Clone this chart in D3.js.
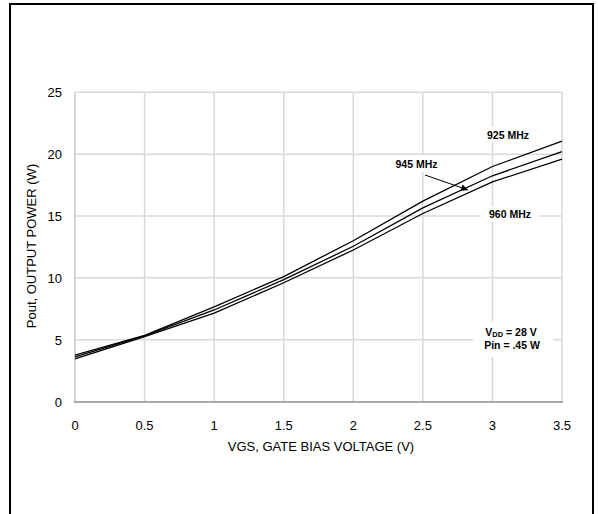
<!DOCTYPE html>
<html><head><meta charset="utf-8">
<script src="https://cdn.jsdelivr.net/npm/d3@7"></script>
<style>body{margin:0;background:#fff}svg{display:block}text{font-family:"Liberation Sans",Arial,sans-serif}</style>
</head><body>
<svg id="c" width="598" height="514"></svg>
<script>
const vgs = [0, 0.5, 1, 1.5, 2, 2.5, 3, 3.5];
const p925 = [3.75, 5.35, 7.65, 10.1, 13.0, 16.2, 19.0, 21.05];
const p945 = [3.6, 5.3, 7.4, 9.85, 12.55, 15.65, 18.25, 20.2];
const p960 = [3.45, 5.25, 7.15, 9.6, 12.25, 15.2, 17.75, 19.6];
const xTicks = [0, 0.5, 1, 1.5, 2, 2.5, 3, 3.5];
const yTicks = [0, 5, 10, 15, 20, 25];
const seriesNames = ["925 MHz", "945 MHz", "960 MHz"];

const svg = d3.select("#c");
const x = d3.scaleLinear().domain([0, 3.5]).range([75, 562]);
const y = d3.scaleLinear().domain([0, 25]).range([401.5, 92.3]);

// outer frame
svg.append("rect").attr("x",10).attr("y",4).attr("width",583).attr("height",530)
  .attr("fill","none").attr("stroke","#000").attr("stroke-width",2);

// gridlines
const g = svg.append("g");
g.selectAll(".vx").data(xTicks.slice(1)).enter().append("line")
  .attr("x1",d=>x(d)).attr("x2",d=>x(d)).attr("y1",y(25)).attr("y2",y(0))
  .attr("stroke","#d9d9d9").attr("stroke-width",1.5);
g.selectAll(".hy").data(yTicks.slice(1)).enter().append("line")
  .attr("x1",x(0)).attr("x2",x(3.5)).attr("y1",d=>y(d)).attr("y2",d=>y(d))
  .attr("stroke","#d9d9d9").attr("stroke-width",1.5);
// left axis
g.append("line").attr("x1",x(0)).attr("x2",x(0)).attr("y1",y(25)).attr("y2",y(0))
  .attr("stroke","#c8c8c8").attr("stroke-width",1.5);
// bottom axis
g.append("line").attr("x1",x(0)-1).attr("x2",x(3.5)+1).attr("y1",y(0)+0.5).attr("y2",y(0)+0.5)
  .attr("stroke","#8c8c8c").attr("stroke-width",1.5);

// tick labels
svg.selectAll(".xt").data(xTicks).enter().append("text")
  .attr("x",d=>x(d)).attr("y",430).attr("text-anchor","middle")
  .attr("font-size",13).attr("fill","#000").text(d=>d);
svg.selectAll(".yt").data(yTicks).enter().append("text")
  .attr("x",62).attr("y",d=>y(d)+5).attr("text-anchor","end")
  .attr("font-size",13).attr("fill","#000").text(d=>d);

// axis titles
svg.append("text").attr("x",321).attr("y",451).attr("text-anchor","middle")
  .attr("font-size",13).text("VGS, GATE BIAS VOLTAGE (V)");
svg.append("text").attr("transform","translate(36,246) rotate(-90)")
  .attr("text-anchor","middle").attr("font-size",13).text("Pout, OUTPUT POWER (W)");

// series lines
const line = d3.line().x((d,i)=>x(vgs[i])).y(d=>y(d));
[p925, p945, p960].forEach(s=>{
  svg.append("path").attr("d",line(s)).attr("fill","none")
    .attr("stroke","#000").attr("stroke-width",1.3);
});

// labels with white boxes
function label(txt, cx, cy, w, h){
  svg.append("rect").attr("x",cx-w/2).attr("y",cy-h/2).attr("width",w).attr("height",h).attr("fill","#fff");
  svg.append("text").attr("x",cx).attr("y",cy+3.8).attr("text-anchor","middle")
    .attr("font-size",10.5).attr("font-weight","bold").text(txt);
}
label(seriesNames[0], 508, 135, 58, 16);
label(seriesNames[2], 510, 214, 58, 16);
// 945 label
svg.append("rect").attr("x",390).attr("y",155).attr("width",55).attr("height",17).attr("fill","#fff");
svg.append("text").attr("x",416.5).attr("y",167.8).attr("text-anchor","middle")
  .attr("font-size",10.5).attr("font-weight","bold").text(seriesNames[1]);
// arrow
svg.append("defs").append("marker").attr("id","ah").attr("viewBox","0 0 10 10")
  .attr("refX",10).attr("refY",5).attr("markerWidth",15).attr("markerHeight",7)
  .attr("markerUnits","userSpaceOnUse").attr("orient","auto")
  .append("path").attr("d","M0,0L10,5L0,10Z").attr("fill","#000");
svg.append("line").attr("x1",425).attr("y1",175).attr("x2",468).attr("y2",190)
  .attr("stroke","#000").attr("stroke-width",1).attr("marker-end","url(#ah)");

// conditions box
svg.append("rect").attr("x",473).attr("y",322).attr("width",80).attr("height",35).attr("fill","#fff");
const t1 = svg.append("text").attr("x",511).attr("y",335.5).attr("text-anchor","middle")
  .attr("font-size",10.5).attr("font-weight","bold");
t1.append("tspan").text("V");
t1.append("tspan").attr("font-size",7.5).attr("dy",1).text("DD");
t1.append("tspan").attr("dy",-1).text(" = 28 V");
svg.append("text").attr("x",512).attr("y",349).attr("text-anchor","middle")
  .attr("font-size",10.5).attr("font-weight","bold").text("Pin = .45 W");
</script>
</body></html>
